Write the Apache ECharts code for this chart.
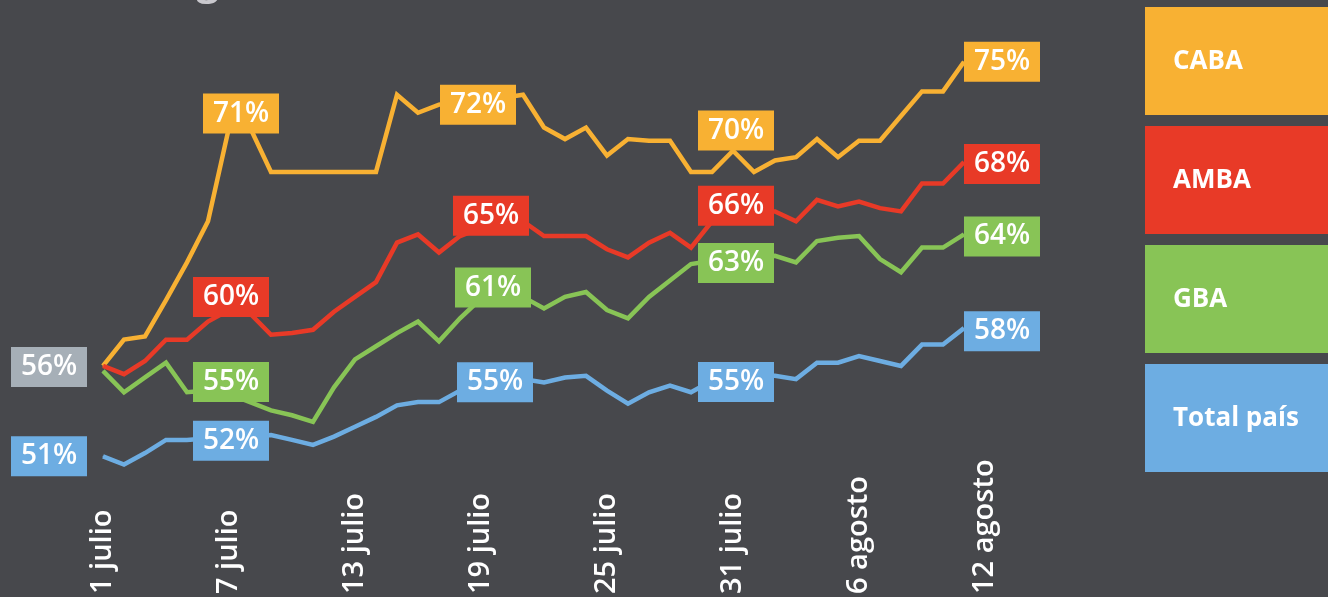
<!DOCTYPE html>
<html>
<head>
<meta charset="utf-8">
<script src="https://cdn.jsdelivr.net/npm/echarts@6/dist/echarts.min.js"></script>
<style>
  html, body { margin: 0; padding: 0; background: #47484c; }
  #chart { width: 1328px; height: 597px; }
</style>
</head>
<body>
<div id="chart"></div>
<script>
// dias del eje x (1 julio - 12 agosto)
const days = [
  '1 julio', '2 julio', '3 julio', '4 julio', '5 julio', '6 julio', '7 julio', '8 julio', '9 julio', '10 julio',
  '11 julio', '12 julio', '13 julio', '14 julio', '15 julio', '16 julio', '17 julio', '18 julio', '19 julio', '20 julio',
  '21 julio', '22 julio', '23 julio', '24 julio', '25 julio', '26 julio', '27 julio', '28 julio', '29 julio', '30 julio',
  '31 julio', '1 agosto', '2 agosto', '3 agosto', '4 agosto', '5 agosto', '6 agosto', '7 agosto', '8 agosto', '9 agosto',
  '10 agosto', '11 agosto', '12 agosto'
];

const names = ['CABA', 'AMBA', 'GBA', 'Total país'];

const caba = [56.5, 58.1, 58.3, 60.5, 62.8, 65.3, 71.0, 71.0, 68.3, 68.3, 68.3, 68.3, 68.3, 68.3,
  73.0, 71.9, 72.4, 72.6, 72.7, 72.8, 73.0, 71.0, 70.3, 71.0, 69.3, 70.3, 70.2, 70.2,
  68.3, 68.3, 69.6, 68.3, 69.0, 69.2, 70.3, 69.2, 70.2, 70.2, 71.7, 73.2, 73.2, 75.0];
const amba = [56.5, 56.0, 56.8, 58.1, 58.1, 59.2, 59.9, 59.7, 58.4, 58.5, 58.7, 59.8, 60.7, 61.6,
  64.0, 64.5, 63.4, 64.4, 64.9, 65.2, 65.3, 64.4, 64.4, 64.4, 63.6, 63.1, 64.0, 64.6,
  63.7, 65.3, 65.7, 65.9, 65.9, 65.3, 66.6, 66.2, 66.5, 66.1, 65.9, 67.6, 67.6, 68.9];
const gba = [56.2, 54.9, 55.8, 56.7, 54.9, 55.0, 54.8, 54.3, 53.8, 53.5, 53.1, 55.2, 56.9, 57.7,
  58.5, 59.2, 58.0, 59.4, 60.6, 60.7, 60.7, 60.0, 60.7, 61.0, 59.9, 59.4, 60.7, 61.7,
  62.7, 62.9, 63.0, 63.1, 63.2, 62.8, 64.1, 64.3, 64.4, 63.0, 62.2, 63.7, 63.7, 64.5];
const total = [51.0, 50.5, 51.2, 52.0, 52.0, 52.1, 52.2, 52.2, 52.3, 52.0, 51.7, 52.2, 52.8, 53.4,
  54.1, 54.3, 54.3, 55.0, 55.2, 55.4, 55.7, 55.5, 55.8, 55.9, 55.0, 54.2, 54.9, 55.3,
  54.9, 55.6, 55.7, 55.9, 55.9, 55.7, 56.7, 56.7, 57.1, 56.8, 56.5, 57.8, 57.8, 58.8];

// etiquetas: [indice, texto]
const cabaTags = [[0, '56%'], [6, '71%'], [18, '72%'], [30, '70%'], [41, '75%']];
const ambaTags = [[6, '60%'], [18, '65%'], [30, '66%'], [41, '68%']];
const gbaTags = [[6, '55%'], [18, '61%'], [30, '63%'], [41, '64%']];
const totalTags = [[0, '51%'], [6, '52%'], [18, '55%'], [30, '55%'], [41, '58%']];

const colors = ['#f8b133', '#e83a27', '#88c456', '#6dade2'];
const startColor = '#a6afb7';

// desplazamiento de cada etiqueta respecto del punto (px)
const tagShift = [
  { 0: [-54, 1], 6: [12, -14], 18: [-3, 5], 30: [3, -20], 41: [38, 0] },
  { 6: [2, -13], 18: [10, -12], 30: [3, -9], 41: [38, 2] },
  { 6: [2, -12], 18: [12, -11], 30: [3, 4], 41: [38, 2] },
  { 0: [-54, 0], 6: [2, 4], 18: [14, -5], 30: [3, 3], 41: [38, 3] }
];

const font = '"Open Sans", "Noto Sans", sans-serif';

function buildSeries(k, values, tags) {
  const tagMap = new Map(tags);
  const data = values.map((v, i) => {
    if (!tagMap.has(i)) return v;
    return {
      value: v,
      label: {
        show: true,
        position: 'inside',
        formatter: tagMap.get(i),
        offset: tagShift[k][i],
        backgroundColor: (k === 0 && i === 0) ? startColor : colors[k]
      }
    };
  });
  return {
    name: names[k],
    type: 'line',
    data: data,
    showSymbol: true,
    showAllSymbol: true,
    symbol: 'circle',
    symbolSize: 1,
    itemStyle: { color: colors[k] },
    lineStyle: { color: colors[k], width: 4.5, join: 'miter' },
    label: {
      show: false,
      color: '#ffffff',
      fontFamily: font,
      fontSize: 28,
      fontWeight: 600,
      width: 56,
      align: 'center',
      lineHeight: 31,
      padding: [5, 10, 4, 10]
    },
    emphasis: { disabled: true },
    animation: false
  };
}

// leyenda a la derecha
const legend = [];
names.forEach((n, k) => {
  const y = 7 + k * 119;
  legend.push({
    type: 'rect',
    shape: { x: 1145, y: y, width: 183, height: 108 },
    style: { fill: colors[k] }
  });
  legend.push({
    type: 'text',
    x: 1173,
    y: y + 55,
    style: {
      text: n,
      fill: '#ffffff',
      font: '700 26px ' + font,
      verticalAlign: 'middle'
    }
  });
});
// resto del titulo, cortado arriba
legend.push({
  type: 'text',
  x: 10,
  y: 4,
  style: {
    text: 'al 12 de agosto',
    fill: '#c9c8cd',
    font: '700 40px ' + font,
    lineHeight: 40,
    verticalAlign: 'bottom'
  }
});

const chart = echarts.init(document.getElementById('chart'));
chart.setOption({
  backgroundColor: '#47484c',
  animation: false,
  grid: { left: 103, right: 343, top: 12.5, bottom: 40 },
  xAxis: {
    type: 'category',
    data: days,
    boundaryGap: false,
    axisLine: { show: false },
    axisTick: { show: false },
    splitLine: { show: false },
    axisLabel: {
      interval: 5,
      rotate: 90,
      margin: 39,
      align: 'left',
      verticalAlign: 'middle',
      color: '#ffffff',
      fontFamily: font,
      fontSize: 29,
      fontWeight: 600
    }
  },
  yAxis: {
    type: 'value',
    min: 45,
    max: 78,
    show: false,
    splitLine: { show: false }
  },
  series: [
    buildSeries(0, caba, cabaTags),
    buildSeries(1, amba, ambaTags),
    buildSeries(2, gba, gbaTags),
    buildSeries(3, total, totalTags)
  ],
  graphic: legend
});
</script>
</body>
</html>
